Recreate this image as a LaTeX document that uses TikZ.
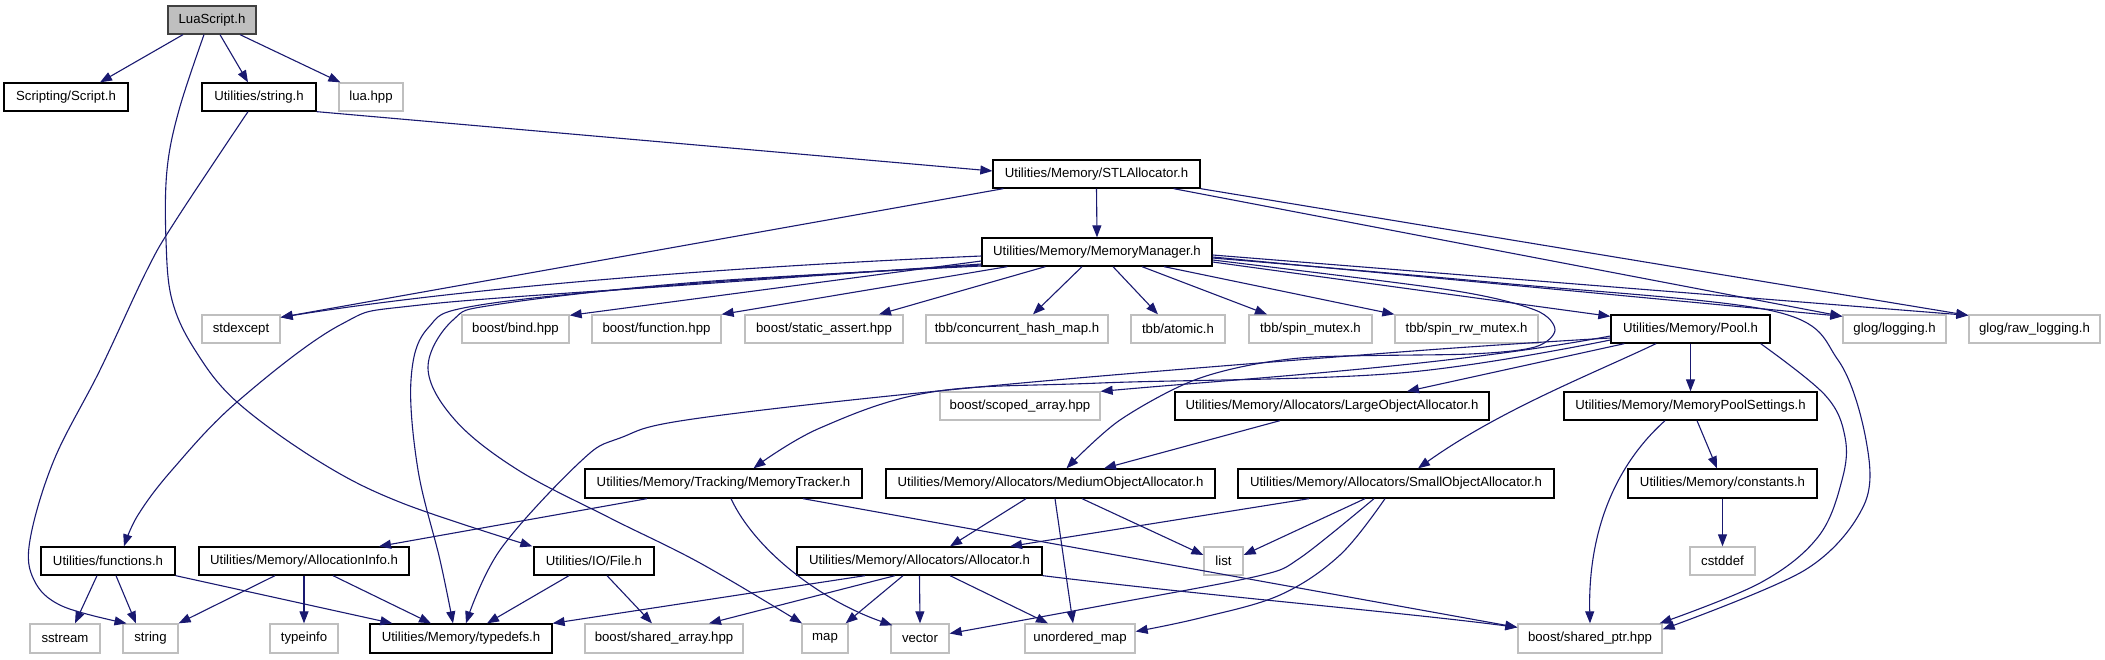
\documentclass[tikz,border=0pt]{standalone}
\usepackage{fontspec}
\setmainfont{Liberation Sans}
\usetikzlibrary{arrows.meta}
\definecolor{edgec}{HTML}{191970}
\definecolor{boxgray}{HTML}{BFBFBF}
\definecolor{rootfill}{HTML}{BFBFBF}
\definecolor{rootdraw}{HTML}{404040}
\newcommand\nfs{\fontsize{13.2pt}{15pt}\selectfont}
\tikzset{
  nd/.style={draw=black, line width=1.3pt, fill=white, inner sep=0pt, minimum height=28pt, font=\nfs},
  ext/.style={nd, draw=boxgray},
  rootnd/.style={nd, fill=rootfill, draw=rootdraw},
  edge/.style={draw=edgec, line width=1.1pt, -{Triangle[length=12pt,width=9pt]}},
}
\begin{document}
\begin{tikzpicture}[x=1pt,y=-1pt]
\useasboundingbox (0,0) rectangle (2105,659);
% row 1-2
\node[rootnd, minimum width=88pt] (root) at (212,20) {LuaScript.h};
\node[nd, minimum width=124pt] (script) at (66,97) {Scripting/Script.h};
\node[nd, minimum width=114pt] (strh) at (259,97) {Utilities/string.h};
\node[ext, minimum width=64pt] (lua) at (371,97) {lua.hpp};
\node[nd, minimum width=207pt] (stl) at (1096.5,174) {Utilities/Memory/STLAllocator.h};
\node[nd, minimum width=230pt] (mm) at (1097,252) {Utilities/Memory/MemoryManager.h};
% row 3
\node[ext, minimum width=78pt] (stdexcept) at (241,329) {stdexcept};
\node[ext, minimum width=107pt] (bind) at (515.5,329) {boost/bind.hpp};
\node[ext, minimum width=129pt] (func) at (656.5,329) {boost/function.hpp};
\node[ext, minimum width=158pt] (sassert) at (824,329) {boost/static\_assert.hpp};
\node[ext, minimum width=182pt] (chm) at (1017,329) {tbb/concurrent\_hash\_map.h};
\node[ext, minimum width=94pt] (atomic) at (1178,329) {tbb/atomic.h};
\node[ext, minimum width=123pt] (spin) at (1310.5,329) {tbb/spin\_mutex.h};
\node[ext, minimum width=143pt] (spinrw) at (1466.5,329) {tbb/spin\_rw\_mutex.h};
\node[nd, minimum width=159pt] (pool) at (1690.5,329) {Utilities/Memory/Pool.h};
\node[ext, minimum width=103pt] (logging) at (1894.5,329) {glog/logging.h};
\node[ext, minimum width=131pt] (rawlog) at (2034.5,329) {glog/raw\_logging.h};
% row 4
\node[ext, minimum width=160pt] (scoped) at (1020,406) {boost/scoped\_array.hpp};
\node[nd, minimum width=314pt] (large) at (1332,406) {Utilities/Memory/Allocators/LargeObjectAllocator.h};
\node[nd, minimum width=253pt] (mps) at (1690.5,406) {Utilities/Memory/MemoryPoolSettings.h};
% row 5
\node[nd, minimum width=277pt, minimum height=29pt] (tracker) at (723.5,483.5) {Utilities/Memory/Tracking/MemoryTracker.h};
\node[nd, minimum width=329pt, minimum height=29pt] (medium) at (1050.5,483.5) {Utilities/Memory/Allocators/MediumObjectAllocator.h};
\node[nd, minimum width=316pt, minimum height=29pt] (small) at (1396,483.5) {Utilities/Memory/Allocators/SmallObjectAllocator.h};
\node[nd, minimum width=189pt, minimum height=29pt] (constants) at (1722.5,483.5) {Utilities/Memory/constants.h};
% row 6
\node[nd, minimum width=134pt] (functions) at (108,561) {Utilities/functions.h};
\node[nd, minimum width=210pt] (allocinfo) at (304,561) {Utilities/Memory/AllocationInfo.h};
\node[nd, minimum width=120pt] (file) at (594,561) {Utilities/IO/File.h};
\node[nd, minimum width=245pt] (allocator) at (919.5,561) {Utilities/Memory/Allocators/Allocator.h};
\node[ext, minimum width=39pt] (list) at (1223.5,561) {list};
\node[ext, minimum width=65pt] (cstddef) at (1722.5,561) {cstddef};
% row 7
\node[ext, minimum width=70pt, minimum height=29pt] (sstream) at (65,638.5) {sstream};
\node[ext, minimum width=55pt, minimum height=29pt] (string) at (150.5,638.5) {string};
\node[ext, minimum width=68pt, minimum height=29pt] (typeinfo) at (304,638.5) {typeinfo};
\node[nd, minimum width=182pt, minimum height=29pt] (typedefs) at (461,638.5) {Utilities/Memory/typedefs.h};
\node[ext, minimum width=158pt, minimum height=29pt] (sharedarr) at (664,638.5) {boost/shared\_array.hpp};
\node[ext, minimum width=46pt, minimum height=29pt] (map) at (825,638.5) {map};
\node[ext, minimum width=58pt, minimum height=29pt] (vector) at (920,638.5) {vector};
\node[ext, minimum width=110pt, minimum height=29pt] (umap) at (1080,638.5) {unordered\_map};
\node[ext, minimum width=144pt, minimum height=29pt] (sharedptr) at (1590,638.5) {boost/shared\_ptr.hpp};

% LuaScript.h
\draw[edge] ([xshift=-29pt]root.south) -- ([xshift=34pt]script.north);
\draw[edge] ([xshift=8pt]root.south) -- ([xshift=-11pt]strh.north);
\draw[edge] ([xshift=28pt]root.south) -- ([xshift=2pt]lua.north west);
\draw[edge] plot[smooth,tension=0.6] coordinates {([xshift=-8pt]root.south) (179,110) (167,170) (166,240) (172,300) (195,350) (237,402) (320,462) (402,503) ([xshift=-1pt]file.north west)};
% string.h
\draw[edge] (strh.south east) -- ([yshift=3pt]stl.west);
\draw[edge] plot[smooth,tension=0.6] coordinates {([xshift=-11pt]strh.south) (176,220) (147,270) (100,370) (54,460) (30,540) (34,580) (62,606) ([xshift=-24pt]string.north)};
% STLAllocator.h
\draw[edge] (stl.south) -- (mm.north);
\draw[edge] ([xshift=11pt]stl.south west) -- ([yshift=-3pt]stdexcept.north east);
\draw[edge] ([xshift=-27pt]stl.south east) -- ([yshift=-2pt]logging.north west);
\draw[edge] (stl.south east) -- ([yshift=-1pt]rawlog.north west);
% MemoryManager.h
\draw[edge] ([yshift=-4pt]mm.west) .. controls (700,268) and (450,290) .. ([yshift=-3pt]stdexcept.north east);
\draw[edge] ([yshift=-9pt]mm.west) -- ([yshift=-1pt]bind.north east);
\draw[edge] ([xshift=26pt]mm.south west) -- (func.north east);
\draw[edge] ([xshift=64pt]mm.south west) -- ([xshift=55pt]sassert.north);
\draw[edge] ([xshift=-15pt]mm.south) -- ([xshift=16pt]chm.north);
\draw[edge] ([xshift=16pt]mm.south) -- ([xshift=-20pt]atomic.north);
\draw[edge] ([xshift=45pt]mm.south) -- ([xshift=-43.5pt]spin.north);
\draw[edge] ([xshift=67pt]mm.south) -- (spinrw.north west);
\draw[edge] ([yshift=-10pt]mm.east) -- ([yshift=-2pt]pool.north west);
\draw[edge] ([yshift=-5pt]mm.east) -- ([yshift=-2pt]logging.north west);
\draw[edge] ([yshift=-3pt]mm.east) -- ([yshift=-1pt]rawlog.north west);
\draw[edge] plot[smooth,tension=0.55] coordinates {([yshift=-6pt]mm.east) (1500,283) (1773,311) (1838,360) (1866,440) (1864,505) (1805,570) ([yshift=-6pt]sharedptr.north east)};
\draw[edge] plot[smooth,tension=0.5] coordinates {([yshift=-8pt]mm.east) (1450,290) (1535,310) (1555,330) (1535,347) (1470,354) (1300,358) (1200,378) (1120,420) ([xshift=16pt]medium.north)};
\draw[edge] plot[smooth,tension=0.6] coordinates {([yshift=-12pt]mm.west) (700,284) (420,305) (340,325) (237,402) (172,470) (138,515) ([xshift=16pt]functions.north)};
\draw[edge] plot[smooth,tension=0.6] coordinates {([yshift=-13pt]mm.west) (700,283) (480,305) (428,328) (411,380) (418,470) (440,560) ([xshift=-8pt]typedefs.north)};
\draw[edge] plot[smooth,tension=0.6] coordinates {([yshift=-14pt]mm.west) (700,282) (500,304) (453,320) (428,368) (455,420) (518,470) (610,518) (700,563) ([xshift=-23pt]map.north)};
% Pool.h
\draw[edge] ([yshift=-7pt]pool.west) .. controls (1450,366) and (1250,378) .. (scoped.north east);
\draw[edge] plot[smooth,tension=0.6] coordinates {([yshift=-11pt]pool.west) (1400,373) (1100,383) (932,392) (820,428) ([xshift=30pt]tracker.north)};
\draw[edge] plot[smooth,tension=0.6] coordinates {([yshift=-9pt]pool.west) (1400,352) (1000,385) (700,418) (620,438) (580,462) (500,550) ([xshift=5pt]typedefs.north)};
\draw[edge] ([xshift=14pt]pool.south west) -- ([xshift=75pt]large.north);
\draw[edge] ([xshift=-34.5pt]pool.south) .. controls (1590,375) and (1500,410) .. ([xshift=22pt]small.north);
\draw[edge] (pool.south) -- (mps.north);
\draw[edge] plot[smooth,tension=0.6] coordinates {([xshift=-10pt]pool.south east) (1825,395) (1845,437) (1842,480) (1818,537) (1760,583) ([xshift=-3pt]sharedptr.north east)};
% LargeObjectAllocator.h
\draw[edge] ([xshift=-52pt]large.south) -- ([xshift=53.5pt]medium.north);
% MemoryTracker.h
\draw[edge] ([xshift=-76.5pt]tracker.south) -- ([xshift=75pt]allocinfo.north);
\draw[edge] ([xshift=7.5pt]tracker.south) .. controls (755,550) and (820,600) .. ([xshift=2pt,yshift=-2pt]vector.north west);
\draw[edge] ([xshift=79.5pt]tracker.south) -- ([yshift=-4pt]sharedptr.north west);
% MediumObjectAllocator.h
\draw[edge] ([xshift=-24.5pt]medium.south) -- ([xshift=30.5pt]allocator.north);
\draw[edge] ([xshift=4.5pt]medium.south) -- ([xshift=-7pt]umap.north);
\draw[edge] ([xshift=31.5pt]medium.south) -- ([yshift=6pt]list.west);
% SmallObjectAllocator.h
\draw[edge] ([xshift=-87pt]small.south) -- ([xshift=90.5pt]allocator.north);
\draw[edge] ([xshift=-31pt]small.south) -- ([yshift=6pt]list.east);
\draw[edge] plot[smooth,tension=0.5] coordinates {([xshift=-22pt]small.south) (1300,558) (1258,576) (1100,606) ([yshift=5pt]vector.east)};
\draw[edge] plot[smooth,tension=0.6] coordinates {([xshift=-11pt]small.south) (1340,555) (1280,595) (1200,618) ([yshift=7pt]umap.east)};
% Allocator.h
\draw[edge] ([xshift=-54.5pt]allocator.south) -- (typedefs.north east);
\draw[edge] ([xshift=-24.5pt]allocator.south) -- ([xshift=45pt]sharedarr.north);
\draw[edge] ([xshift=-16.5pt]allocator.south) -- ([xshift=-3pt]map.north east);
\draw[edge] (allocator.south) -- (vector.north);
\draw[edge] ([xshift=30.5pt]allocator.south) -- ([xshift=-32pt]umap.north);
\draw[edge] (allocator.south east) .. controls (1200,595) and (1400,612) .. ([yshift=-4pt]sharedptr.north west);
% functions.h
\draw[edge] ([xshift=-11pt]functions.south) -- ([xshift=10pt]sstream.north);
\draw[edge] ([xshift=8pt]functions.south) -- ([xshift=-14.5pt]string.north);
\draw[edge] (functions.south east) -- ([xshift=23pt]typedefs.north west);
% AllocationInfo.h
\draw[edge] ([xshift=-29pt]allocinfo.south) -- (string.north east);
\draw[edge] (allocinfo.south) -- (typeinfo.north);
\draw[edge] ([xshift=29pt]allocinfo.south) -- ([xshift=-30pt]typedefs.north);
% File.h
\draw[edge] ([xshift=-25pt]file.south) -- ([xshift=26pt]typedefs.north);
\draw[edge] ([xshift=13pt]file.south) -- ([xshift=-12pt]sharedarr.north);
% MemoryPoolSettings.h
\draw[edge] ([xshift=6.5pt]mps.south) -- ([xshift=-5.5pt]constants.north);
\draw[edge] ([xshift=-25.5pt]mps.south) .. controls (1610,470) and (1588,540) .. (sharedptr.north);
% constants.h
\draw[edge] (constants.south) -- (cstddef.north);
\end{tikzpicture}
\end{document}
